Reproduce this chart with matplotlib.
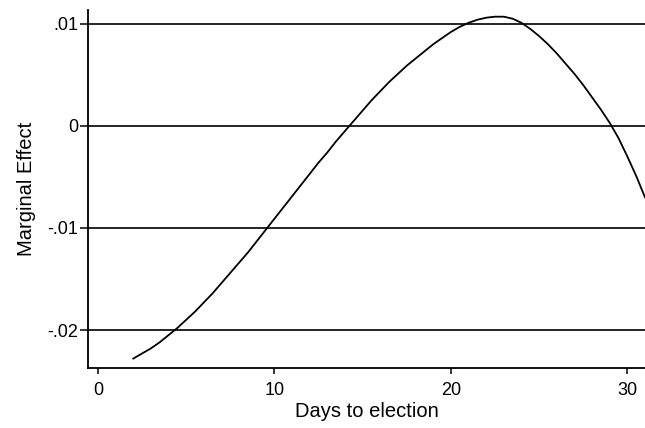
import numpy as np
from matplotlib import pyplot as plt

# values, every half day
days = [2, 2.5, 3, 3.5, 4, 4.5, 5, 5.5, 6, 6.5, 7, 7.5, 8, 8.5, 9, 9.5,
        10, 10.5, 11, 11.5, 12, 12.5, 13, 13.5, 14, 14.5, 15, 15.5, 16,
        16.5, 17, 17.5, 18, 18.5, 19, 19.5, 20, 20.5, 21, 21.5, 22, 22.5,
        23, 23.5, 24, 24.5, 25, 25.5, 26, 26.5, 27, 27.5, 28, 28.5, 29,
        29.5, 30, 30.5, 31]
effect = [-0.0228, -0.0223, -0.0218, -0.0212, -0.0205, -0.0198, -0.0190,
          -0.0182, -0.0173, -0.0164, -0.0154, -0.0144, -0.0134, -0.0124,
          -0.0113, -0.0102, -0.0091, -0.0080, -0.0069, -0.0058, -0.0047,
          -0.0036, -0.0026, -0.0015, -0.0005, 0.0005, 0.0015, 0.0025,
          0.0034, 0.0043, 0.0051, 0.0059, 0.0066, 0.0073, 0.0080, 0.0086,
          0.0092, 0.0097, 0.0101, 0.0104, 0.0106, 0.0107, 0.0107, 0.0105,
          0.0101, 0.0095, 0.0088, 0.0080, 0.0071, 0.0061, 0.0051, 0.0040,
          0.0028, 0.0016, 0.0003, -0.0012, -0.0030, -0.0049, -0.0070]
yticks = [-0.02, -0.01, 0, 0.01]
ytick_labels = ['-.02', '-.01', '0', '.01']
xticks = [0, 10, 20, 30]

plt.rcParams['font.family'] = ['Liberation Sans', 'DejaVu Sans']

fig = plt.figure(figsize=(6.45, 4.28), dpi=100)
ax = fig.add_axes([0.1364, 0.140, 0.8636, 0.837])

for v in yticks:
    ax.axhline(v, color='black', lw=1.2, zorder=1)
ax.plot(days, effect, color='black', lw=1.3, zorder=2)

ax.set_xlim(-0.565, 31.0)
ax.set_ylim(-0.02373, 0.01137)
ax.set_xticks(xticks)
ax.set_xticklabels([str(t) for t in xticks])
ax.set_yticks(yticks)
ax.set_yticklabels(ytick_labels)
ax.tick_params(axis='both', direction='out', width=1.1,
               labelsize=13, color='black')
ax.tick_params(axis='y', length=6, pad=1)
ax.tick_params(axis='x', length=4, pad=6)

for s in ['top', 'right']:
    ax.spines[s].set_visible(False)
for s in ['left', 'bottom']:
    ax.spines[s].set_linewidth(1.3)

ax.set_xlabel('Days to election', fontsize=14.5, labelpad=2)
ax.set_ylabel('Marginal Effect', fontsize=14.5, labelpad=8)

fig.savefig('out.png', dpi=100)
